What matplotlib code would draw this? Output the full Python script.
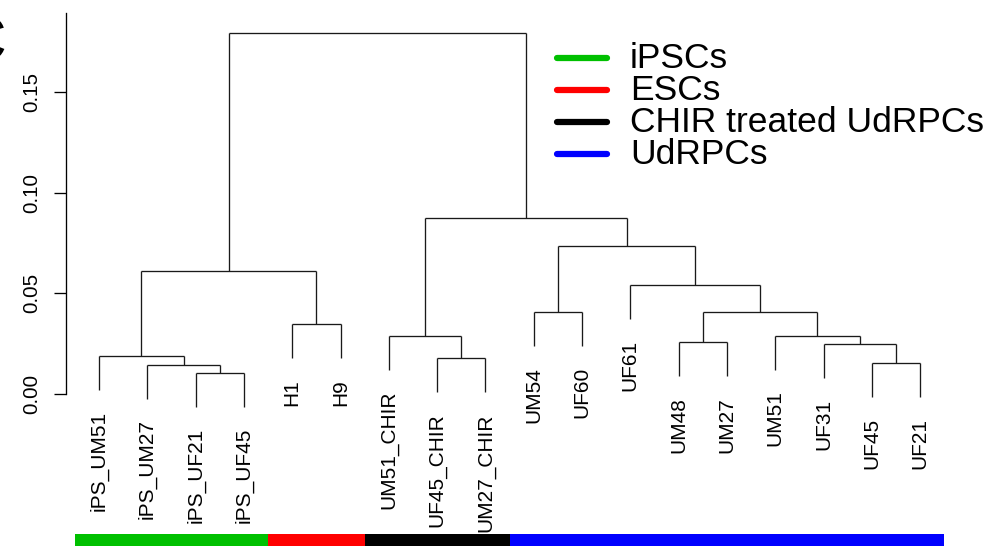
import matplotlib
matplotlib.use("Agg")
import matplotlib.pyplot as plt
from matplotlib.lines import Line2D

plt.rcParams['font.family'] = ['Liberation Sans', 'DejaVu Sans']

# leaf order along the x axis
leaves = ['iPS_UM51', 'iPS_UM27', 'iPS_UF21', 'iPS_UF45', 'H1', 'H9',
          'UM51_CHIR', 'UF45_CHIR', 'UM27_CHIR', 'UM54', 'UF60', 'UF61',
          'UM48', 'UM27', 'UM51', 'UF31', 'UF45', 'UF21']
# group of each leaf (for the colour bar)
groups = ['iPSCs'] * 4 + ['ESCs'] * 2 + ['CHIR treated UdRPCs'] * 3 + ['UdRPCs'] * 9
group_names = ['iPSCs', 'ESCs', 'CHIR treated UdRPCs', 'UdRPCs']
group_colors = ['#00c000', '#ff0000', '#000000', '#0000ff']

# merges: (left, right, height); 'm<k>' refers to earlier merge k
merges = [
    ('iPS_UF21', 'iPS_UF45', 0.0103),   # m0
    ('iPS_UM27', 'm0', 0.0146),         # m1
    ('iPS_UM51', 'm1', 0.0189),         # m2
    ('H1', 'H9', 0.0348),               # m3
    ('m2', 'm3', 0.0611),               # m4
    ('UF45_CHIR', 'UM27_CHIR', 0.0177), # m5
    ('UM51_CHIR', 'm5', 0.0290),        # m6
    ('UM54', 'UF60', 0.0407),           # m7
    ('UF45', 'UF21', 0.0154),           # m8
    ('UF31', 'm8', 0.0248),             # m9
    ('UM51', 'm9', 0.0290),             # m10
    ('UM48', 'UM27', 0.0257),           # m11
    ('m11', 'm10', 0.0407),             # m12
    ('UF61', 'm12', 0.0543),            # m13
    ('m7', 'm13', 0.0735),              # m14
    ('m6', 'm14', 0.0874),              # m15
    ('m4', 'm15', 0.1793),              # m16
]

yticks = [0.00, 0.05, 0.10, 0.15]

W, H = 991, 554
fig = plt.figure(figsize=(W / 100, H / 100), dpi=100)

# pixel calibration
x0_px, dx_px = 99.0, 48.3      # leaf 0 position and spacing
y0_px, dy_px = 394.0, 2013.0   # pixel of 0.0 and pixels per unit
ax_left = 66
ax = fig.add_axes([ax_left / W, 0, (W - ax_left) / W, 1])
ax.set_xlim((ax_left - x0_px) / dx_px, (W - x0_px) / dx_px)
ax.set_ylim((y0_px - H) / dy_px, y0_px / dy_px)

heights = [m[2] for m in merges]
hang = 0.1 * (max(heights) - min(heights))
lc = '#1a1a1a'
lw = 0.95

pos = {}
for name in leaves:
    pos[name] = (leaves.index(name), None)

def parent_h(node):
    for l, r, h in merges:
        if node in (l, r):
            return h
    return None

for k, (l, r, h) in enumerate(merges):
    xs = []
    for c in (l, r):
        xc, hc = pos[c]
        if hc is None:
            hc = h - hang
        ax.plot([xc, xc], [hc, h], color=lc, lw=lw, solid_capstyle='butt')
        xs.append(xc)
    ax.plot(xs, [h, h], color=lc, lw=lw, solid_capstyle='butt')
    pos['m%d' % k] = ((xs[0] + xs[1]) / 2, h)

# leaf labels
for i, name in enumerate(leaves):
    yb = parent_h(name) - hang
    ax.annotate(name, (i, yb), xytext=(0, -15), textcoords='offset points',
                rotation=90, ha='center', va='top', fontsize=15,
                annotation_clip=False)

# colour bar under the leaves
bar_colors = [group_colors[group_names.index(g)] for g in groups]
ax.bar(range(len(leaves)), 0.006, bottom=(y0_px - 546) / dy_px - 0.006 + 0.006,
       width=1.0, color=bar_colors, align='center', clip_on=False)

# y axis
for s in ['top', 'right', 'bottom']:
    ax.spines[s].set_visible(False)
ax.spines['left'].set_bounds(0, (y0_px - 13) / dy_px)
ax.spines['left'].set_linewidth(0.95)
ax.set_xticks([])
ax.set_yticks(yticks)
ax.set_yticklabels(['%.2f' % t for t in yticks], rotation=90, va='center',
                   fontsize=14.8)
ax.tick_params(axis='y', length=9, width=0.95, pad=9)

# legend drawn in pixel positions
def fx(px):
    return px / W

def fy(py):
    return 1 - py / H

leg_y = [58, 90, 122, 154]
for name, col, yy in zip(group_names, group_colors, leg_y):
    fig.add_artist(Line2D([fx(557), fx(607)], [fy(yy), fy(yy)], color=col,
                          lw=4.5, solid_capstyle='round'))
    fig.text(fx(630), fy(yy), name, fontsize=25.5, va='center', ha='left')

# panel letter, mostly cut off at the left edge
fig.text(fx(5), fy(44), 'C', fontsize=46, fontweight='bold', va='center',
         ha='right')

fig.savefig('out.png', dpi=100)
